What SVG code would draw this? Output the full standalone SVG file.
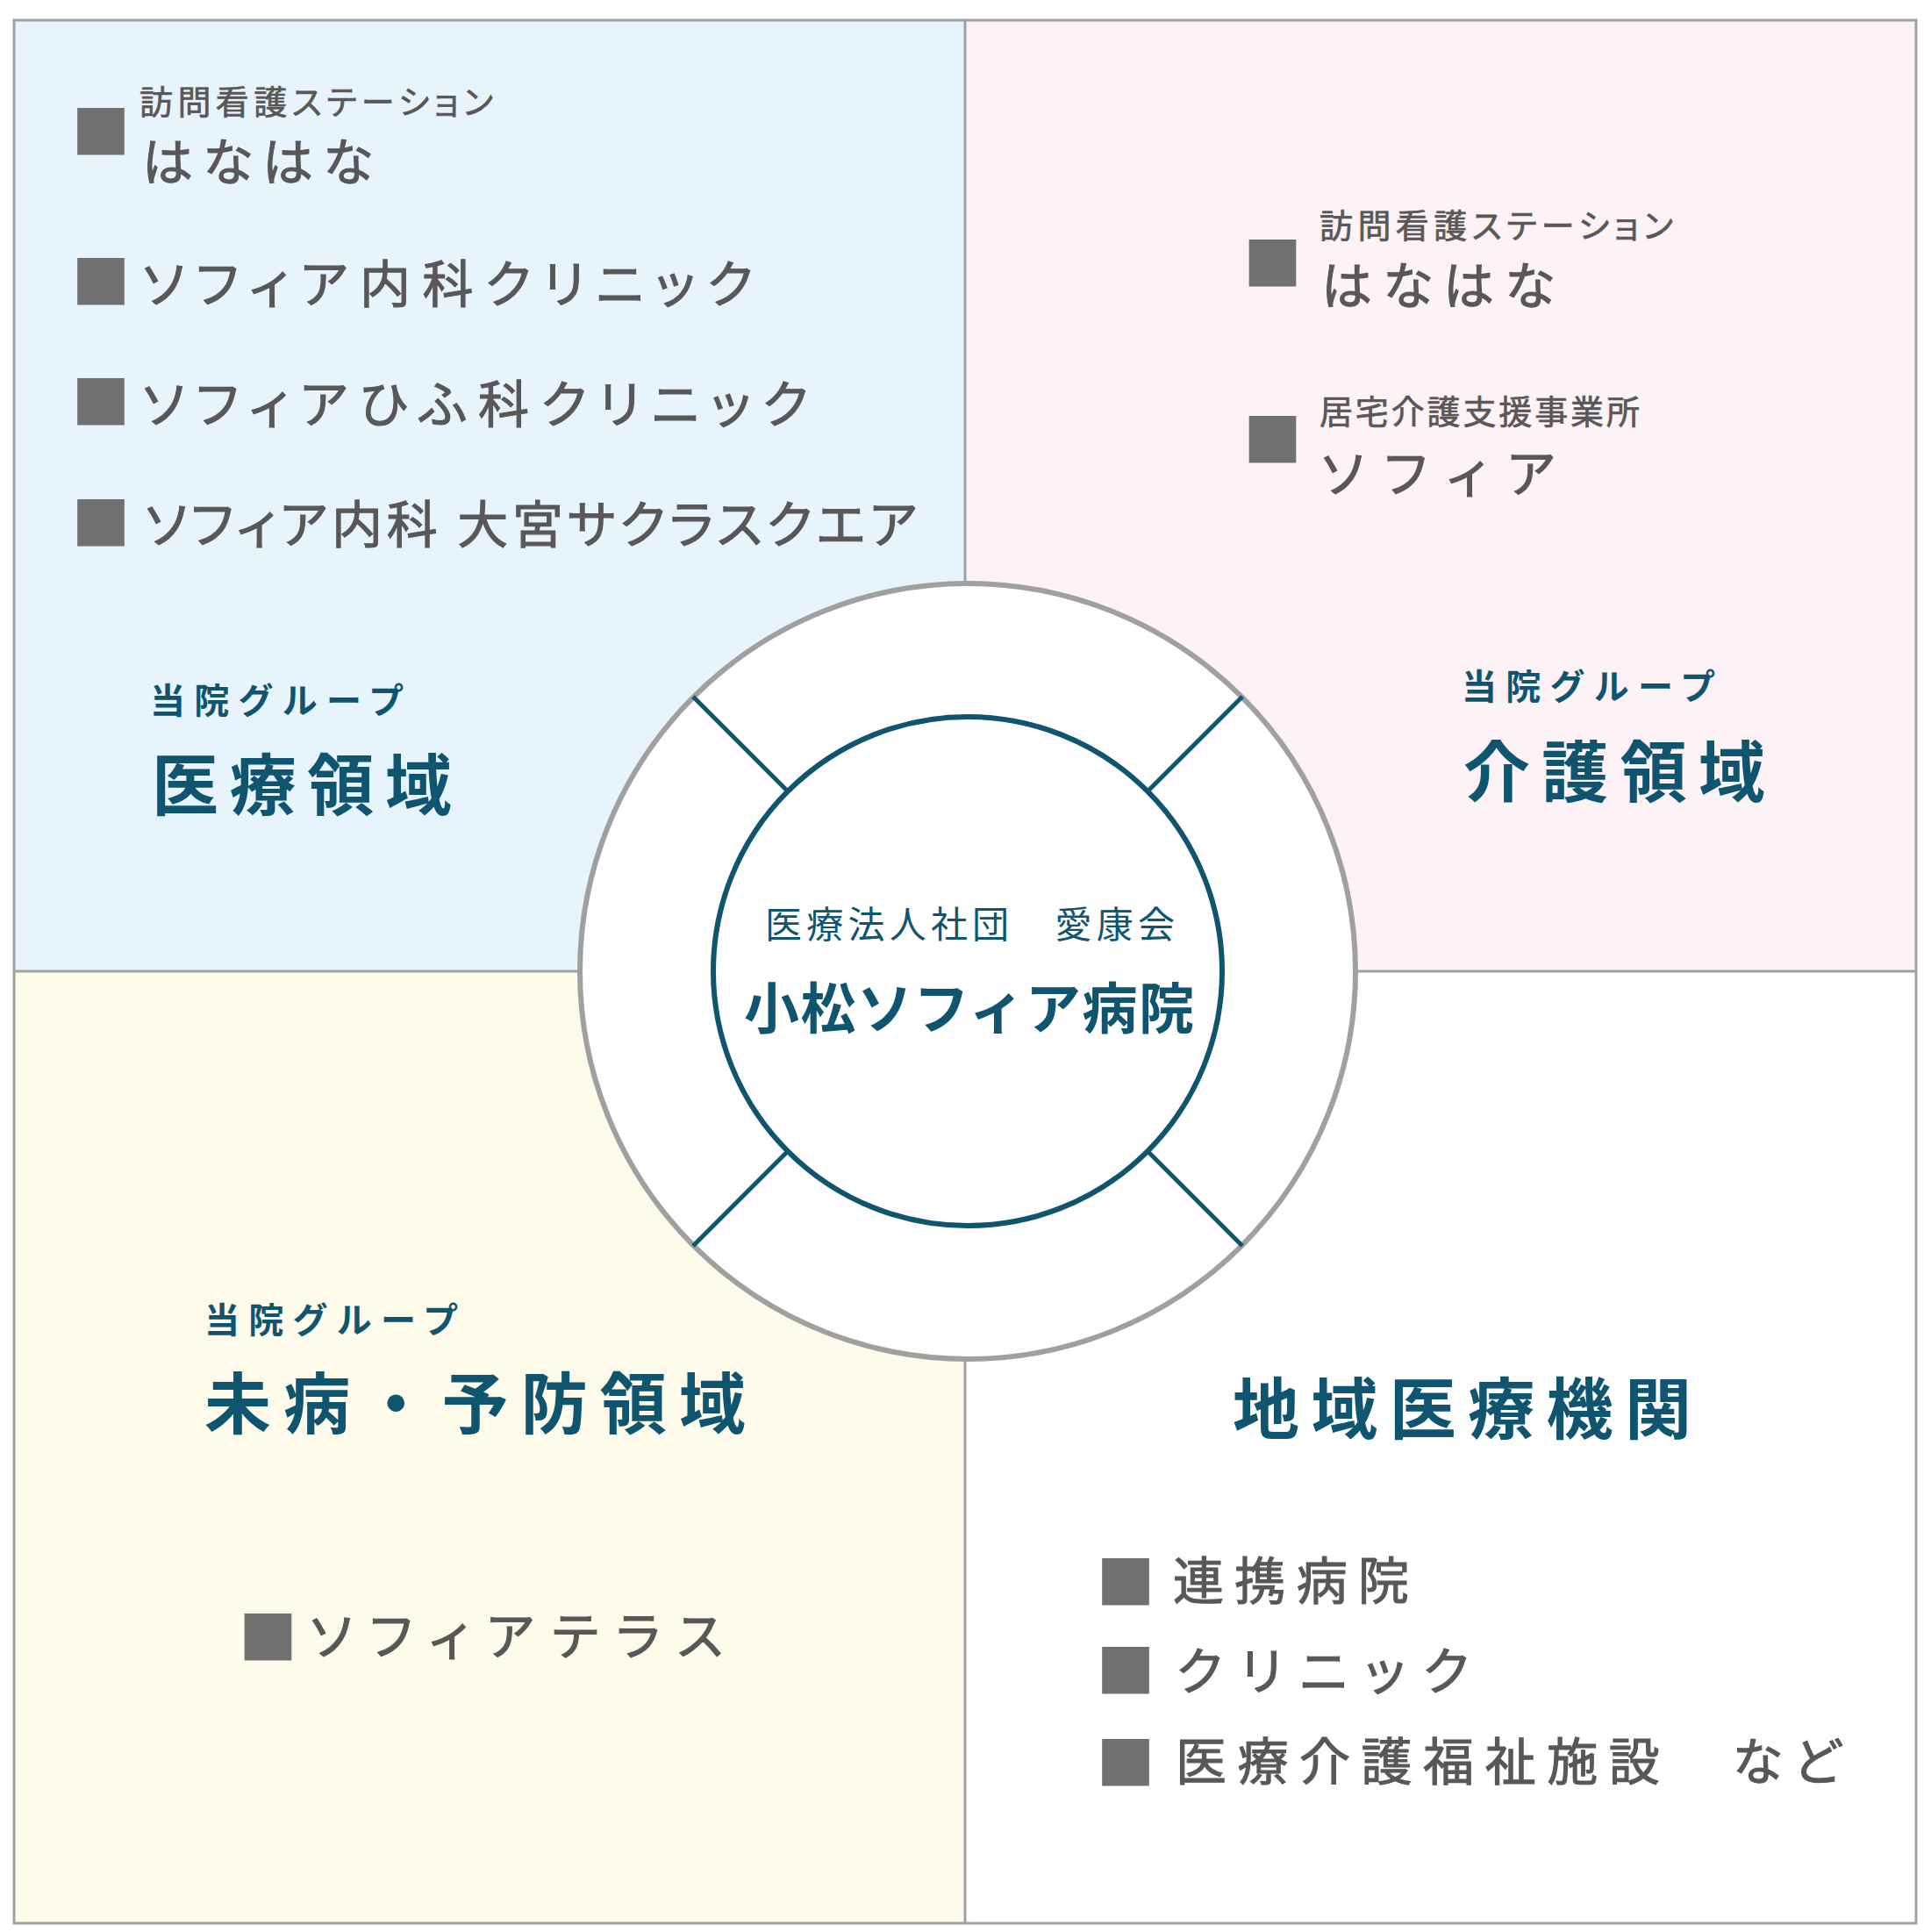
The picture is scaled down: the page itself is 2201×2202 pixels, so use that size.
<svg xmlns="http://www.w3.org/2000/svg" width="2201" height="2202" viewBox="0 0 2201 2202">
<style>
text{font-family:"Noto Sans CJK JP","Noto Sans CJK SC",sans-serif;}
.g{fill:#595757;stroke:#595757;font-weight:400;font-feature-settings:"palt";}
.s{font-size:38px;stroke-width:0.7;}
.m{font-size:58px;stroke-width:1.1;}
.sq{fill:#717071;font-size:67px;text-anchor:middle;}
.t{fill:#0f5570;font-weight:700;}
.tg{font-size:40px;}
.th{font-size:76px;}
.bd{fill:none;stroke:#a0a0a0;stroke-width:3;}
.sp{stroke:#0f5570;stroke-width:5;fill:none;}
</style>
<rect width="2201" height="2202" fill="#ffffff"/>
<g id="quadrants">
<rect x="16" y="23" width="1084" height="1084" fill="#e8f4fc"/>
<rect x="1100" y="23" width="1084" height="1084" fill="#fdf3f6"/>
<rect x="16" y="1107" width="1084" height="1085" fill="#fefbea"/>
<rect x="1100" y="1107" width="1084" height="1085" fill="#ffffff"/>
<line class="bd" x1="1100" y1="23" x2="1100" y2="2192"/>
<line class="bd" x1="16" y1="1107" x2="2184" y2="1107"/>
<rect class="bd" x="16" y="23" width="2168" height="2169"/>
</g>
<g id="hub">
<circle cx="1103" cy="1107" r="442" fill="#ffffff" stroke="#a0a0a0" stroke-width="6"/>
<circle cx="1103" cy="1107" r="290" fill="#ffffff" stroke="#0f5570" stroke-width="6"/>
<text x="872" y="1069" fill="#0f5570" font-size="42" textLength="467" lengthAdjust="spacing">医療法人社団　愛康会</text>
<text class="t" x="848" y="1172" font-size="63" textLength="513" lengthAdjust="spacing">小松ソフィア病院</text>
</g>
<g id="connectors">
<line class="sp" x1="898" y1="902" x2="790" y2="794"/>
<line class="sp" x1="1308" y1="902" x2="1416" y2="794"/>
<line class="sp" x1="898" y1="1312" x2="790" y2="1420"/>
<line class="sp" x1="1308" y1="1312" x2="1416" y2="1420"/>
</g>
<g id="medical">
<text class="sq" x="115" y="175">■</text>
<text class="g s" x="159" y="130" textLength="403" lengthAdjust="spacing">訪問看護ステーション</text>
<text class="g m" x="162" y="206" textLength="263" lengthAdjust="spacing">はなはな</text>
<text class="sq" x="115" y="346">■</text>
<text class="g m" x="162" y="345" textLength="696" lengthAdjust="spacing">ソフィア内科クリニック</text>
<text class="sq" x="115" y="483">■</text>
<text class="g m" x="162" y="482" textLength="759" lengthAdjust="spacing">ソフィアひふ科クリニック</text>
<text class="sq" x="115" y="621">■</text>
<text class="g m" x="165" y="619" textLength="880" lengthAdjust="spacing">ソフィア内科 大宮サクラスクエア</text>
<text class="t tg" x="171" y="813" textLength="289" lengthAdjust="spacing">当院グループ</text>
<text class="t th" x="173" y="923" textLength="342" lengthAdjust="spacing">医療領域</text>
</g>
<g id="care">
<text class="sq" x="1450.5" y="325">■</text>
<text class="g s" x="1504" y="271" textLength="403" lengthAdjust="spacing">訪問看護ステーション</text>
<text class="g m" x="1506" y="347" textLength="266" lengthAdjust="spacing">はなはな</text>
<text class="sq" x="1450.5" y="526">■</text>
<text class="g s" x="1504" y="483" textLength="365" lengthAdjust="spacing">居宅介護支援事業所</text>
<text class="g m" x="1506" y="561" textLength="266" lengthAdjust="spacing">ソフィア</text>
<text class="t tg" x="1666" y="797" textLength="289" lengthAdjust="spacing">当院グループ</text>
<text class="t th" x="1668" y="908" textLength="344" lengthAdjust="spacing">介護領域</text>
</g>
<g id="prevention">
<text class="t tg" x="233" y="1519" textLength="289" lengthAdjust="spacing">当院グループ</text>
<text class="t th" x="233" y="1628" textLength="617" lengthAdjust="spacing">未病・予防領域</text>
<text class="sq" x="305.5" y="1891">■</text>
<text class="g m" x="353" y="1886" textLength="471" lengthAdjust="spacing">ソフィアテラス</text>
</g>
<g id="regional">
<text class="t th" x="1405" y="1634" textLength="523" lengthAdjust="spacing">地域医療機関</text>
<text class="sq" x="1283" y="1827.5">■</text>
<text class="g m" x="1337" y="1823" textLength="269" lengthAdjust="spacing">連携病院</text>
<text class="sq" x="1283" y="1928.5">■</text>
<text class="g m" x="1341" y="1926" textLength="333" lengthAdjust="spacing">クリニック</text>
<text class="sq" x="1283" y="2034">■</text>
<text class="g m" x="1340" y="2029" textLength="758" lengthAdjust="spacing">医療介護福祉施設　など</text>
</g>
</svg>
